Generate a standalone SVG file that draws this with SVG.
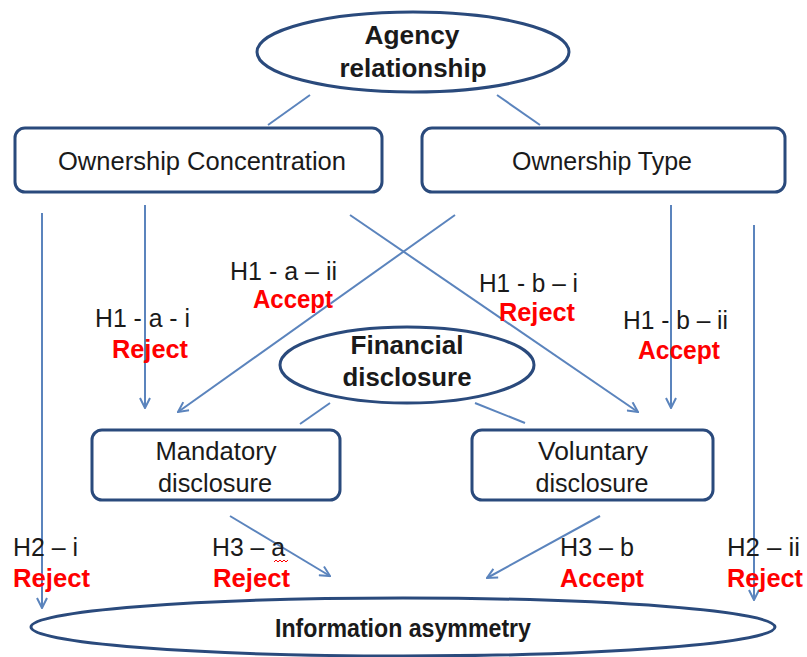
<svg xmlns="http://www.w3.org/2000/svg" width="807" height="657" viewBox="0 0 807 657">
<style>
.node{fill:#fff;stroke:#2a4a7c;stroke-width:3}
.t{font-family:"Liberation Sans",Arial,sans-serif;font-size:26px;fill:#1a1a1a;text-anchor:middle}
.b{font-weight:bold}
.lab{font-family:"Liberation Sans",Arial,sans-serif;font-size:26px;fill:#1a1a1a}
.red{fill:#ff0000;font-weight:bold}
.c{stroke:#5b84bd;stroke-width:2;fill:none}
</style>
<defs>
<marker id="ah" viewBox="0 0 12 12" refX="11" refY="6" markerWidth="12" markerHeight="12" markerUnits="userSpaceOnUse" orient="auto">
<path d="M1,1 L11,6 L1,11" fill="none" stroke="#5b84bd" stroke-width="2"/>
</marker>
</defs>
<g id="connectors">
<line class="c" x1="310" y1="95" x2="268" y2="125"/>
<line class="c" x1="497" y1="95" x2="540" y2="125"/>
<line class="c" x1="42" y1="213" x2="42" y2="608" marker-end="url(#ah)"/>
<line class="c" x1="145" y1="205" x2="145" y2="408" marker-end="url(#ah)"/>
<line class="c" x1="350" y1="215" x2="638" y2="412" marker-end="url(#ah)"/>
<line class="c" x1="455" y1="215" x2="178" y2="412" marker-end="url(#ah)"/>
<line class="c" x1="671" y1="205" x2="671" y2="408" marker-end="url(#ah)"/>
<line class="c" x1="754" y1="225" x2="754" y2="600" marker-end="url(#ah)"/>
<line class="c" x1="330" y1="403" x2="300" y2="424"/>
<line class="c" x1="475" y1="403" x2="525" y2="423"/>
<line class="c" x1="230" y1="516" x2="330" y2="576" marker-end="url(#ah)"/>
<line class="c" x1="600" y1="516" x2="487" y2="578" marker-end="url(#ah)"/>
</g>
<g id="agency">
<ellipse class="node" cx="413" cy="52" rx="156" ry="40"/>
<text class="t b" x="412" y="44" textLength="95" lengthAdjust="spacingAndGlyphs">Agency</text>
<text class="t b" x="413" y="77" textLength="147" lengthAdjust="spacingAndGlyphs">relationship</text>
</g>
<g id="ownership-concentration">
<rect class="node" x="15" y="128" width="367" height="64" rx="10"/>
<text class="t" x="202" y="170" textLength="288" lengthAdjust="spacingAndGlyphs">Ownership Concentration</text>
</g>
<g id="ownership-type">
<rect class="node" x="422" y="128" width="363" height="64" rx="10"/>
<text class="t" x="602" y="170" textLength="180" lengthAdjust="spacingAndGlyphs">Ownership Type</text>
</g>
<g id="financial-disclosure">
<ellipse class="node" cx="407" cy="365" rx="127" ry="38"/>
<text class="t b" x="407" y="354" textLength="113" lengthAdjust="spacingAndGlyphs">Financial</text>
<text class="t b" x="407" y="386" textLength="129" lengthAdjust="spacingAndGlyphs">disclosure</text>
</g>
<g id="mandatory">
<rect class="node" x="92" y="430" width="248" height="70" rx="10"/>
<text class="t" x="216" y="460" textLength="121" lengthAdjust="spacingAndGlyphs">Mandatory</text>
<text class="t" x="215" y="492" textLength="114" lengthAdjust="spacingAndGlyphs">disclosure</text>
</g>
<g id="voluntary">
<rect class="node" x="472" y="430" width="241" height="70" rx="10"/>
<text class="t" x="593" y="460" textLength="110" lengthAdjust="spacingAndGlyphs">Voluntary</text>
<text class="t" x="592" y="492" textLength="113" lengthAdjust="spacingAndGlyphs">disclosure</text>
</g>
<g id="information-asymmetry">
<ellipse class="node" cx="403" cy="627" rx="372" ry="29"/>
<text class="t b" x="403" y="637" textLength="256" lengthAdjust="spacingAndGlyphs">Information asymmetry</text>
</g>
<g id="labels">
<text class="lab" x="230" y="280" textLength="107" lengthAdjust="spacingAndGlyphs">H1 - a – ii</text>
<text class="lab red" x="253" y="308" textLength="80" lengthAdjust="spacingAndGlyphs">Accept</text>
<text class="lab" x="95" y="327" textLength="95" lengthAdjust="spacingAndGlyphs">H1 - a - i</text>
<text class="lab red" x="112" y="358" textLength="76" lengthAdjust="spacingAndGlyphs">Reject</text>
<text class="lab" x="479" y="292" textLength="99" lengthAdjust="spacingAndGlyphs">H1 - b – i</text>
<text class="lab red" x="499" y="321" textLength="76" lengthAdjust="spacingAndGlyphs">Reject</text>
<text class="lab" x="623" y="329" textLength="105" lengthAdjust="spacingAndGlyphs">H1 - b – ii</text>
<text class="lab red" x="638" y="359" textLength="82" lengthAdjust="spacingAndGlyphs">Accept</text>
<text class="lab" x="13" y="556" textLength="65" lengthAdjust="spacingAndGlyphs">H2 – i</text>
<text class="lab red" x="13" y="587" textLength="77" lengthAdjust="spacingAndGlyphs">Reject</text>
<text class="lab" x="212" y="556" textLength="73" lengthAdjust="spacingAndGlyphs">H3 – a</text>
<path d="M274,562 l2,-2 l2,2 l2,-2 l2,2 l2,-2 l2,2 l2,-2" fill="none" stroke="#ff0000" stroke-width="1"/>
<text class="lab red" x="213" y="587" textLength="77" lengthAdjust="spacingAndGlyphs">Reject</text>
<text class="lab" x="560" y="556" textLength="74" lengthAdjust="spacingAndGlyphs">H3 – b</text>
<text class="lab red" x="560" y="587" textLength="84" lengthAdjust="spacingAndGlyphs">Accept</text>
<text class="lab" x="727" y="556" textLength="73" lengthAdjust="spacingAndGlyphs">H2 – ii</text>
<text class="lab red" x="727" y="587" textLength="76" lengthAdjust="spacingAndGlyphs">Reject</text>
</g>
</svg>
